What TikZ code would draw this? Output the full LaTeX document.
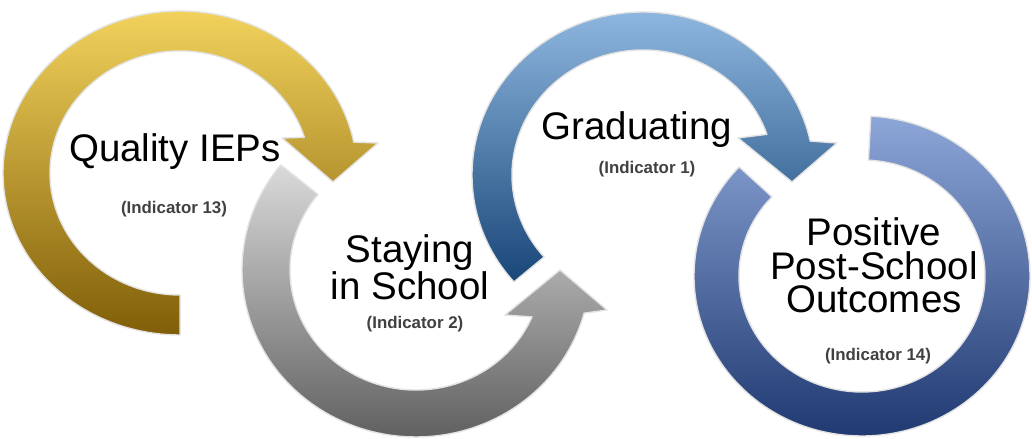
\documentclass[tikz,border=0pt]{standalone}
\usepackage{fontspec}
\setmainfont{Liberation Sans}
\usepackage{xcolor}
\definecolor{GoldTop}{RGB}{242,210,92}
\definecolor{GoldMid}{RGB}{208,162,22}
\definecolor{GoldBot}{RGB}{128,94,8}
\definecolor{GrayTop}{RGB}{218,218,218}
\definecolor{GrayBot}{RGB}{92,92,92}
\definecolor{BlueTop}{RGB}{150,190,230}
\definecolor{BlueMid}{RGB}{42,112,182}
\definecolor{BlueBot}{RGB}{24,70,120}
\definecolor{RingTop}{RGB}{140,166,216}
\definecolor{RingBot}{RGB}{30,56,112}
\definecolor{Ink}{RGB}{64,64,64}
\usepackage{tikz}
\usetikzlibrary{calc}
\tikzstyle{Arrow}=[draw=gray!22,line width=.8pt,line join=round]
\tikzstyle{ArrowGold}=[Arrow,top color=GoldTop,middle color=GoldMid,bottom color=GoldBot]
\tikzstyle{ArrowGray}=[Arrow,top color=GrayTop,bottom color=GrayBot]
\tikzstyle{ArrowBlue}=[Arrow,top color=BlueTop,middle color=BlueMid,bottom color=BlueBot]
\tikzstyle{ArrowRing}=[Arrow,top color=RingTop,bottom color=RingBot]
\tikzstyle{Title}=[inner sep=0pt,align=center,font=\fontsize{21.9}{19.2}\selectfont]
\tikzstyle{Indicator}=[inner sep=0pt,text=Ink,font=\fontsize{9.6}{11}\selectfont\bfseries]

\begin{document}
\begin{tikzpicture}[x=0.02cm,y=0.02cm]
        \useasboundingbox(0,0)rectangle(1032,439);
        \coordinate(G)at(180,266);
        \coordinate(S)at(416,169);
        \coordinate(B)at(643,264);
        \coordinate(R)at(862,163);
        % quality IEPs
        \draw[ArrowGold]($(G)+(270:177 and 162)$)
            arc[start angle=270,end angle=11,x radius=177,y radius=162]
            --($(G)+(198,30)$)--($(G)+(153,-9)$)--($(G)+(102,35)$)
            --($(G)+(17:130 and 122)$)
            arc[start angle=17,end angle=270,x radius=130,y radius=122]--cycle;
        % staying in school
        \draw[ArrowGray]($(S)+(141:174 and 167)$)
            arc[start angle=141,end angle=345,x radius=174,y radius=167]
            --($(S)+(191,-40)$)--($(S)+(144,0)$)--($(S)+(89,-45)$)
            --($(S)+(337:126 and 120)$)
            arc[start angle=337,end angle=141,x radius=126,y radius=120]--cycle;
        % graduating
        \draw[ArrowBlue]($(B)+(221:171 and 163)$)
            arc[start angle=221,end angle=12,x radius=171,y radius=163]
            --($(B)+(194,32)$)--($(B)+(149,-7)$)--($(B)+(95,37)$)
            --($(B)+(19:131 and 125)$)
            arc[start angle=19,end angle=221,x radius=131,y radius=125]--cycle;
        % outcomes
        \draw[ArrowRing]($(R)+(87:168 and 160)$)
            arc[start angle=87,end angle=-223,x radius=168,y radius=160]
            --($(R)+(-223:123 and 116)$)
            arc[start angle=-223,end angle=87,x radius=123,y radius=116]--cycle;
        \node[Title,anchor=base](iep)at(175,277){Quality IEPs};
        \node[Indicator,anchor=base](iepi)at(174,225){(Indicator 13)};
        \node[Title,anchor=base](stay)at(410,139){Staying\\in School};
        \node[Indicator,anchor=base](stayi)at(415,110){(Indicator 2)};
        \node[Title,anchor=base](grad)at(637,299){Graduating};
        \node[Indicator,anchor=base](gradi)at(647,265){(Indicator 1)};
        \node[Title,anchor=base](post)at(874,126){Positive\\Post-School\\Outcomes};
        \node[Indicator,anchor=base](posti)at(878,78){(Indicator 14)};
    \end{tikzpicture}
\end{document}
